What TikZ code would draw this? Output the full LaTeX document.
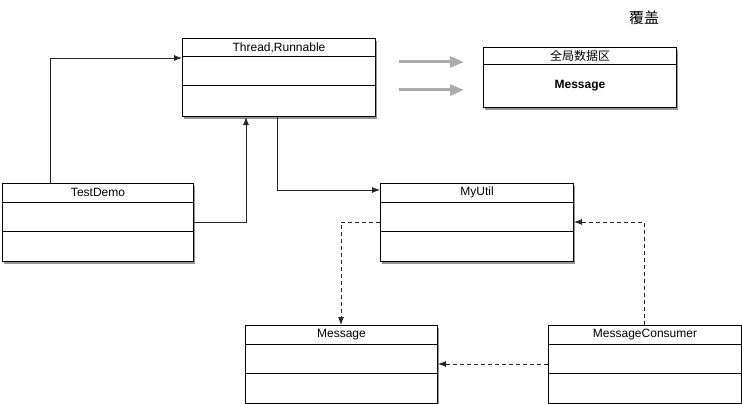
\documentclass[tikz,border=0pt]{standalone}
\usepackage{fontspec}
\setmainfont{Liberation Sans}
\newfontfamily\cjk{Noto Sans CJK SC}
\usetikzlibrary{arrows.meta,shadows}
\definecolor{shadowgray}{HTML}{8A8A8A}
\definecolor{arrowgray}{HTML}{ABABAB}
\begin{document}
\begin{tikzpicture}[x=1pt,y=-1pt,
  umlbox/.style={draw=black, line width=1pt, fill=white, anchor=north west,
    minimum width=193pt, minimum height=78pt, inner sep=0pt,
    drop shadow={shadow xshift=1.2pt, shadow yshift=-2.2pt, fill=shadowgray, opacity=0.9}},
  globbox/.style={umlbox, minimum height=60pt},
  title/.style={anchor=center, inner sep=0pt, font=\fontsize{12}{14}\selectfont},
  divider/.style={draw=black, line width=1pt},
  conn/.style={draw=black!85, line width=0.9pt, -{Latex[length=8pt,width=6pt]}},
  dconn/.style={conn, dash pattern=on 4pt off 3pt},
  garrow/.style={draw=arrowgray, line width=3pt, -{Triangle[length=14pt,width=11pt]}}
]
\useasboundingbox (0,0) rectangle (742,404);

% boxes
\node[umlbox] (thread) at (182,38) {};
\node[globbox] (glob) at (483,47) {};
\node[umlbox, minimum width=191pt] (testdemo) at (2,183) {};
\node[umlbox] (myutil) at (380,183) {};
\node[umlbox, minimum width=192pt] (message) at (245,325) {};
\node[umlbox, minimum width=193pt] (consumer) at (548,325) {};

% dividers and titles
\foreach \b in {thread,testdemo,myutil,message,consumer}{
  \draw[divider] ([yshift=-19pt]\b.north west) -- ([yshift=-19pt]\b.north east);
  \draw[divider] ([yshift=-48pt]\b.north west) -- ([yshift=-48pt]\b.north east);
}
\draw[divider] ([yshift=-18pt]glob.north west) -- ([yshift=-18pt]glob.north east);

\node[title] (threadT) at ([yshift=-9.5pt]thread.north) {Thread,Runnable};
\node[title] (testdemoT) at ([yshift=-9.5pt]testdemo.north) {TestDemo};
\node[title] (myutilT) at ([yshift=-9.5pt]myutil.north) {MyUtil};
\node[title] (messageT) at ([yshift=-9.5pt]message.north) {Message};
\node[title] (consumerT) at ([yshift=-9.5pt]consumer.north) {MessageConsumer};
\node[title, font=\cjk\fontsize{12}{14}\selectfont] (globT) at ([yshift=-9pt]glob.north) {全局数据区};
\node[title, font=\fontsize{12}{14}\selectfont\bfseries] (globM) at ([yshift=-39pt]glob.north) {Message};

\node[title, font=\cjk\fontsize{15}{17}\selectfont] (cover) at (644,18) {覆盖};

% connectors
\draw[conn] ([xshift=48pt]testdemo.north west) |- ([yshift=-20pt]thread.north west);
\draw[conn] ([yshift=-39pt]testdemo.north east) -| ([xshift=64pt]thread.south west);
\draw[conn] ([xshift=95pt]thread.south west) |- ([yshift=-7pt]myutil.north west);
\draw[dconn] ([yshift=-39pt]myutil.north west) -| ([xshift=96pt]message.north west);
\draw[dconn] ([xshift=96pt]consumer.north west) |- ([yshift=-39pt]myutil.north east);
\draw[dconn] ([yshift=-39pt]consumer.north west) -- ([yshift=-39pt]message.north east);

% gray arrows
\coordinate (g1s) at (399,62);
\coordinate (g1e) at (464,62);
\coordinate (g2s) at (399,90);
\coordinate (g2e) at (464,90);
\draw[garrow] (g1s) -- (g1e);
\draw[garrow] (g2s) -- (g2e);
\end{tikzpicture}
\end{document}
